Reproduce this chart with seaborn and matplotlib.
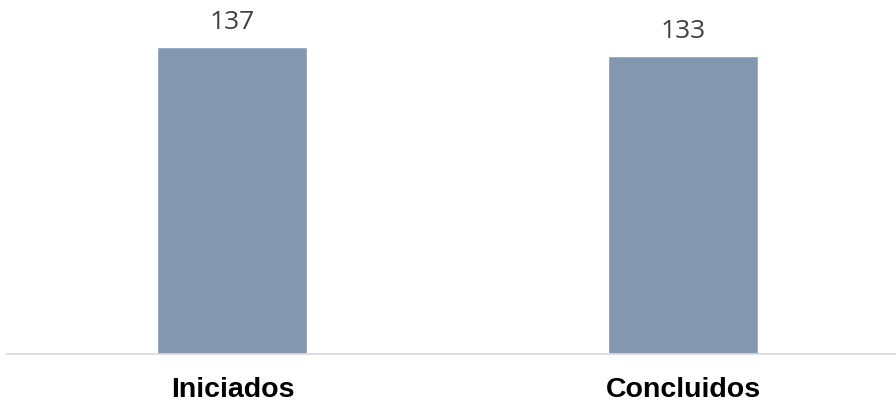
import pandas as pd
import matplotlib.pyplot as plt
import seaborn as sns

# Dados
categorias = ['Iniciados', 'Concluidos']
valores = [137, 133]

df = pd.DataFrame({'categoria': categorias, 'valor': valores})

sns.set_style('white')

fig = plt.figure(figsize=(8.96, 4.06), dpi=100)
ax = fig.add_axes([7 / 896, 51 / 406, 889 / 896, 355 / 406])

sns.barplot(data=df, x='categoria', y='valor', color='#8497B0', width=0.333,
            saturation=1, ax=ax)

for i, v in enumerate(valores):
    ax.text(i, v + 8.5, str(v), ha='center', va='baseline', fontsize=19,
            color='#404040', family='Open Sans')

ax.set_ylim(0, 158.4)
ax.set_xlim(-0.5, 1.472)
ax.set_xlabel('')
ax.set_ylabel('')
ax.set_yticks([])
ax.tick_params(axis='x', length=0, pad=15.5)
for lbl in ax.get_xticklabels():
    lbl.set_fontfamily('Liberation Sans')
    lbl.set_fontweight('bold')
    lbl.set_fontsize(20.5)
    lbl.set_color('black')

for s in ['top', 'right', 'left']:
    ax.spines[s].set_visible(False)
ax.spines['bottom'].set_color('#d9d9d9')
ax.spines['bottom'].set_linewidth(1.2)

fig.savefig('out.png', dpi=100)
